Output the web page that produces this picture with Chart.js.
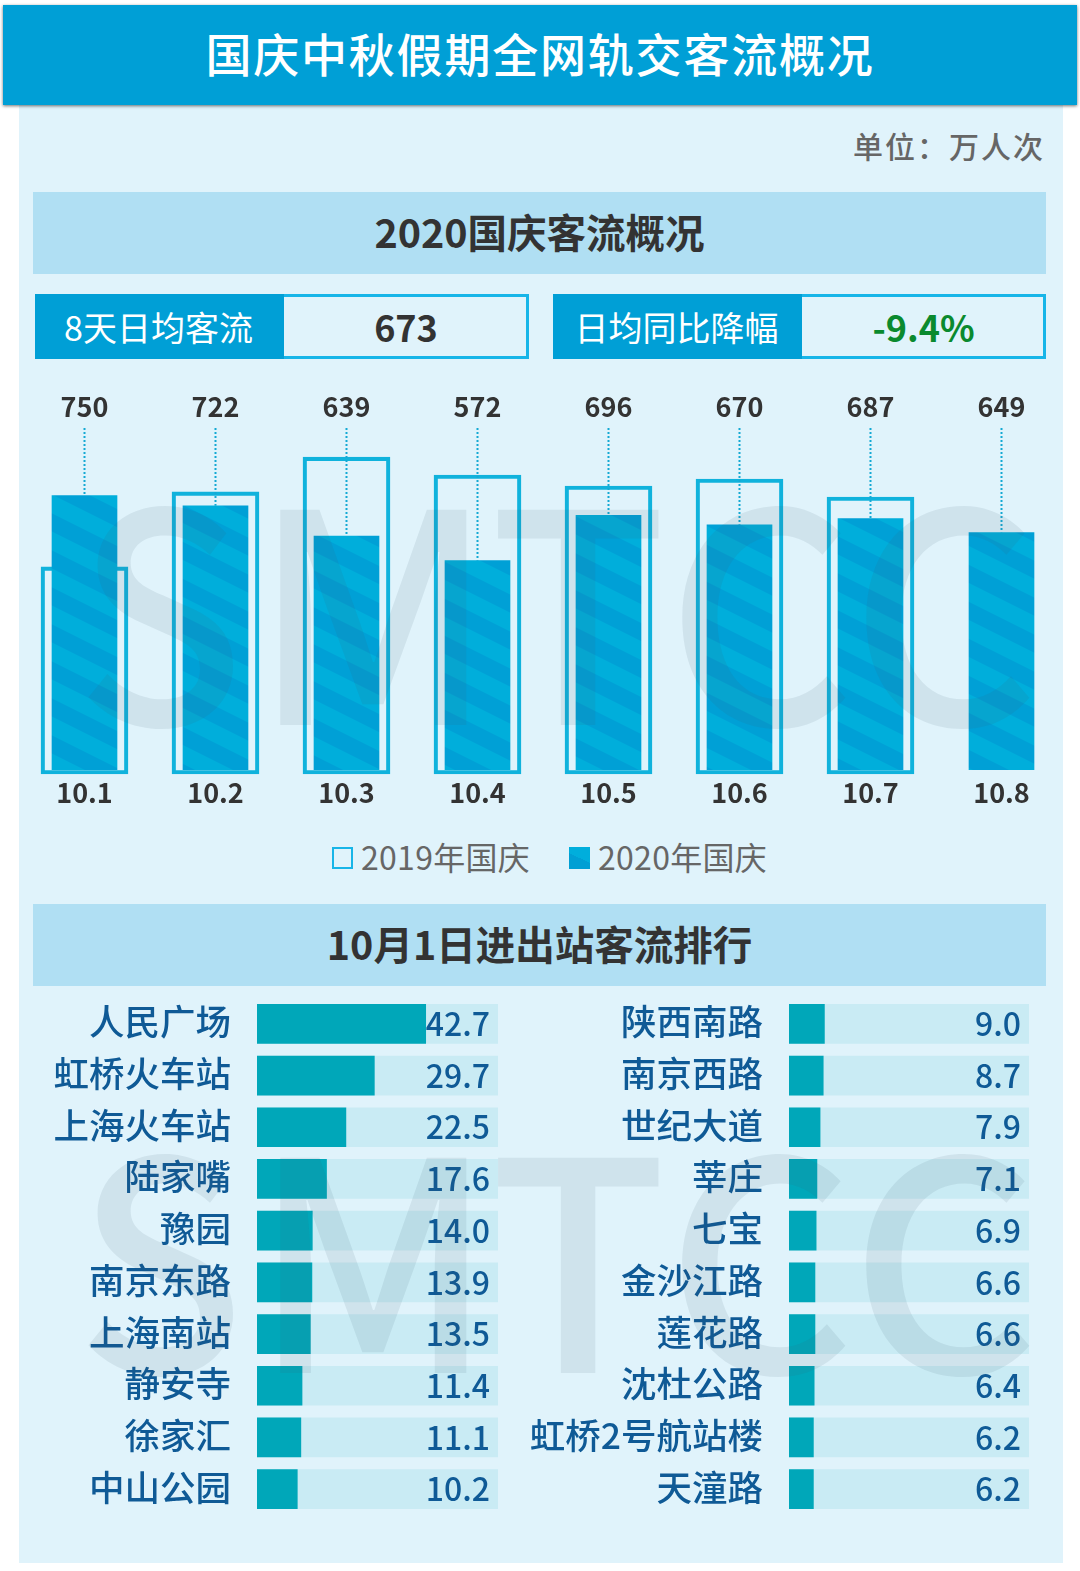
<!DOCTYPE html>
<html lang="zh">
<head>
<meta charset="utf-8">
<title>国庆中秋假期全网轨交客流概况</title>
<script src="https://cdn.jsdelivr.net/npm/chart.js@4"></script>
<style>
html, body { margin: 0; padding: 0; background: #fff; }
body { position: relative; width: 1080px; height: 1571px; overflow: hidden; font-family: "Noto Sans CJK SC", "Noto Sans", sans-serif; }
.abs { position: absolute; }
#panel { left: 19px; top: 100px; width: 1044px; height: 1463px; background: #e0f3fb; }
#header { left: 3px; top: 5px; width: 1074px; height: 100px; background: #009fd6; box-shadow: 0 1px 3px rgba(0,0,0,.55); color: #fff; font-size: 46px; font-weight: 500; letter-spacing: 1.8px; line-height: 94px; text-align: center; }
#unit { right: 35px; top: 123px; color: #666; font-size: 30px; font-weight: 500; letter-spacing: 2px; line-height: 44px; }
.section { left: 33px; width: 1013px; height: 82px; line-height: 77px; background: #b0dff3; color: #333; font-size: 39.5px; font-weight: 700; text-align: center; }
.kpi { top: 294px; height: 65px; box-sizing: border-box; border: 3px solid #17b5e8; }
.kpi .name { position: absolute; left: -3px; top: -3px; width: 247px; height: 65px; background: #009fd6; color: #fff; font-size: 34px; line-height: 66px; text-align: center; padding-right: 2px; }
.kpi .num { position: absolute; left: 248px; right: 0; top: -3px; height: 65px; color: #333; font-size: 36px; font-weight: 700; line-height: 64px; text-align: center; }
canvas { position: absolute; display: block; }
#legend span { position: absolute; top: 834px; color: #666; font-size: 32px; letter-spacing: .3px; line-height: 44px; white-space: nowrap; }
#legend i { position: absolute; top: 847px; width: 21px; height: 22px; box-sizing: border-box; }
#mark { left: 0; top: 0; width: 1080px; height: 1571px; pointer-events: none; color: rgba(55,85,105,.1); font-size: 292px; font-weight: 500; line-height: 292px; }
#mark span { position: absolute; transform-origin: left top; }
</style>
</head>
<body>
<div class="abs" id="panel"></div>
<div class="abs" id="header">国庆中秋假期全网轨交客流概况</div>
<div class="abs" id="unit">单位：万人次</div>
<div class="abs section" style="top:192px">2020国庆客流概况</div>
<div class="abs kpi" style="left:35px;width:494px"><div class="name">8天日均客流</div><div class="num">673</div></div>
<div class="abs kpi" style="left:553px;width:493px"><div class="name">日均同比降幅</div><div class="num" style="color:#0a8a2e">-9.4%</div></div>
<canvas id="days" width="1048" height="430" style="left:19px;top:386px"></canvas>
<div id="legend">
  <i style="left:332px;border:2px solid #17b5e8"></i><span style="left:361px">2019年国庆</span>
  <i style="left:569px;background:linear-gradient(25deg,#009fd4 50%,#00aedc 50%)"></i><span style="left:598px">2020年国庆</span>
</div>
<div class="abs section" style="top:904px">10月1日进出站客流排行</div>
<canvas id="stationsLeft" width="458" height="517" style="left:40px;top:998px"></canvas>
<canvas id="stationsRight" width="511" height="517" style="left:518px;top:998px"></canvas>
<div class="abs" id="mark"></div>

<script>
var days = ['10.1', '10.2', '10.3', '10.4', '10.5', '10.6', '10.7', '10.8'];
var flow2019 = [555, 760, 855, 806, 776, 795, 746, null];
var flow2020 = [750, 722, 639, 572, 696, 670, 687, 649];

var stationsLeft = ['人民广场', '虹桥火车站', '上海火车站', '陆家嘴', '豫园', '南京东路', '上海南站', '静安寺', '徐家汇', '中山公园'];
var valuesLeft = [42.7, 29.7, 22.5, 17.6, 14.0, 13.9, 13.5, 11.4, 11.1, 10.2];
var stationsRight = ['陕西南路', '南京西路', '世纪大道', '莘庄', '七宝', '金沙江路', '莲花路', '沈杜公路', '虹桥2号航站楼', '天潼路'];
var valuesRight = [9.0, 8.7, 7.9, 7.1, 6.9, 6.6, 6.6, 6.4, 6.2, 6.2];

var FONT = '"Noto Sans CJK SC", "Noto Sans", sans-serif';
var RANK_MAX = 61;

Chart.defaults.font.family = FONT;
Chart.defaults.animation = false;

function stripePattern() {
    var tile = document.createElement('canvas');
    tile.width = 74;
    tile.height = 37;
    var c = tile.getContext('2d');
    c.fillStyle = '#00aedb';
    c.fillRect(0, 0, 74, 37);
    c.fillStyle = '#00a0d6';
    for (var k = -74; k <= 37; k += 37) {
        c.beginPath();
        c.moveTo(0, k);
        c.lineTo(74, k + 37);
        c.lineTo(74, k + 55);
        c.lineTo(0, k + 18);
        c.closePath();
        c.fill();
    }
    return document.getElementById('days').getContext('2d').createPattern(tile, 'repeat');
}

// value labels above the columns, with the dotted line down to the 2020 bar
var columnLabels = {
    id: 'columnLabels',
    afterDatasetsDraw: function (chart) {
        var ctx = chart.ctx;
        var meta = chart.getDatasetMeta(1);
        ctx.save();
        ctx.textAlign = 'center';
        ctx.textBaseline = 'middle';
        flow2020.forEach(function (value, i) {
            var x = meta.data[i].x;
            ctx.strokeStyle = '#14a9d4';
            ctx.lineWidth = 2;
            ctx.setLineDash([2, 2]);
            ctx.beginPath();
            ctx.moveTo(x, 42);
            ctx.lineTo(x, chart.scales.y.getPixelForValue(value));
            ctx.stroke();
            ctx.fillStyle = '#333';
            ctx.font = '700 27px ' + FONT;
            ctx.fillText(String(value), x, 21);
        });
        ctx.restore();
    }
};

new Chart(document.getElementById('days'), {
    type: 'bar',
    data: {
        labels: days,
        datasets: [{
            label: '2019年国庆',
            data: flow2019,
            order: 2,
            base: -11,
            clip: false,
            barThickness: 87,
            borderWidth: 3.5,
            borderSkipped: false,
            borderColor: '#10b2dc',
            backgroundColor: 'rgba(0,0,0,0)'
        }, {
            label: '2020年国庆',
            data: flow2020,
            order: 1,
            barThickness: 65,
            backgroundColor: stripePattern()
        }]
    },
    options: {
        responsive: false,
        devicePixelRatio: 1,
        layout: { padding: { top: 18 } },
        plugins: { legend: { display: false }, tooltip: { enabled: false } },
        datasets: { bar: { grouped: false } },
        scales: {
            x: {
                grid: { display: false, drawTicks: false },
                border: { display: false },
                afterFit: function (scale) { scale.height = 46; },
                ticks: { color: '#333', padding: 7, maxRotation: 0, font: { size: 27, weight: '700' } }
            },
            y: { display: false, min: 0, max: 1000 }
        }
    },
    plugins: [columnLabels]
});

var rankLabels = {
    id: 'rankLabels',
    afterDatasetsDraw: function (chart) {
        var ctx = chart.ctx;
        var meta = chart.getDatasetMeta(1);
        ctx.save();
        ctx.textAlign = 'right';
        ctx.textBaseline = 'middle';
        ctx.fillStyle = '#0f5a96';
        ctx.font = '500 32px ' + FONT;
        chart.data.datasets[1].data.forEach(function (value, i) {
            ctx.fillText(value.toFixed(1), chart.chartArea.right - 8, meta.data[i].y);
        });
        ctx.restore();
    }
};

function drawRanking(id, names, values, axisWidth) {
    new Chart(document.getElementById(id), {
        type: 'bar',
        data: {
            labels: names,
            datasets: [{
                label: '轨道',
                data: names.map(function () { return RANK_MAX; }),
                order: 2,
                backgroundColor: '#c9ebf4'
            }, {
                label: '客流',
                data: values,
                order: 1,
                backgroundColor: '#00a7b9'
            }]
        },
        options: {
            indexAxis: 'y',
            responsive: false,
            devicePixelRatio: 1,
            plugins: { legend: { display: false }, tooltip: { enabled: false } },
            datasets: { bar: { grouped: false, barThickness: 39 } },
            scales: {
                x: { display: false, min: 0, max: RANK_MAX },
                y: {
                    grid: { display: false, drawTicks: false },
                    border: { display: false },
                    afterFit: function (scale) {
                        scale.width = axisWidth;
                        scale.paddingTop = 0;
                        scale.paddingBottom = 0;
                    },
                    ticks: { color: '#0f5a96', padding: 26, labelOffset: -2, autoSkip: false, font: { size: 35.5, weight: '500' } }
                }
            }
        },
        plugins: [rankLabels]
    });
}

drawRanking('stationsLeft', stationsLeft, valuesLeft, 217);
drawRanking('stationsRight', stationsRight, valuesRight, 271);

// SMTCC watermark across both chart blocks
var markLetters = ['S', 'M', 'T', 'C', 'C'];
var markLeft = [76, 252, 489, 666, 850];
var markStretch = [0.95, 1, 1, 1, 1];
var markTop = [452, 1100];
var mark = document.getElementById('mark');
markTop.forEach(function (top) {
    markLetters.forEach(function (letter, i) {
        var el = document.createElement('span');
        el.textContent = letter;
        el.style.left = markLeft[i] + 'px';
        el.style.top = top + 'px';
        el.style.transform = 'scaleX(' + markStretch[i] + ')';
        mark.appendChild(el);
    });
});
</script>
</body>
</html>
